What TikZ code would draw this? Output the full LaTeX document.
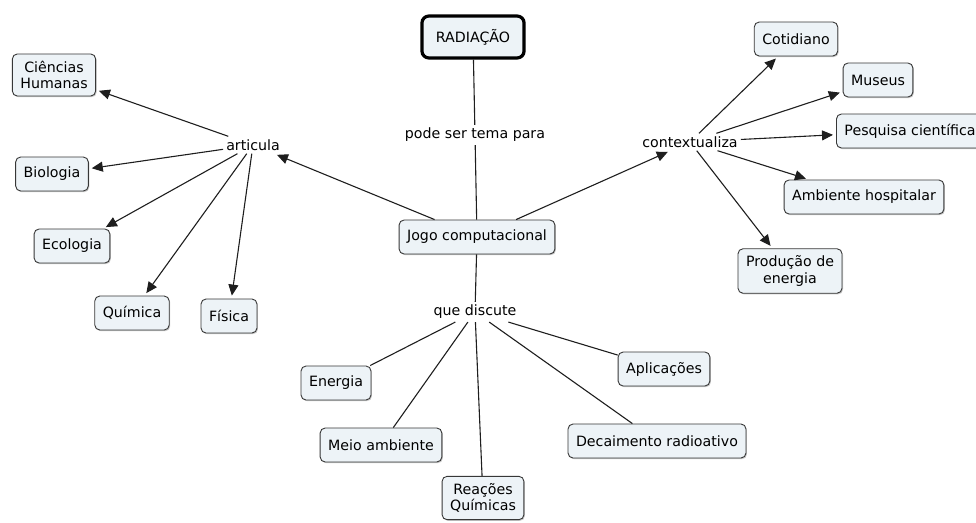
\documentclass[tikz,border=0pt]{standalone}
\usepackage{fontspec}
\setmainfont{DejaVu Sans}
\usetikzlibrary{arrows.meta, shadows}
\definecolor{conceptfill}{RGB}{237, 243, 247}
\definecolor{conceptline}{RGB}{55, 55, 55}
\definecolor{linkline}{RGB}{30, 30, 30}

\begin{document}
\begin{tikzpicture}[x=1pt, y=-1pt,
    concept/.style={draw=conceptline, fill=conceptfill, rounded corners=5pt, line width=0.9pt,
        inner xsep=8pt, inner ysep=7pt, minimum height=34pt, align=center,
        font=\fontsize{14.2}{16.5}\selectfont,
        drop shadow={shadow xshift=1pt, shadow yshift=-1.2pt, fill=gray!60, opacity=0.7}},
    rootconcept/.style={concept, line width=3.2pt, draw=black, rounded corners=7pt,
        minimum height=42pt, inner xsep=14pt},
    linkword/.style={font=\fontsize{14.2}{16.5}\selectfont, inner sep=3pt},
    plain/.style={draw=linkline, line width=1.1pt},
    arr/.style={plain, -{Triangle[length=11pt, width=10pt]}, shorten >=3pt}]
    \useasboundingbox (0,0) rectangle (976,522);

    % Centre
    \node[rootconcept] (radiacao) at (473,37) {RADIAÇÃO};
    \node[linkword] (tema) at (475,135) {pode ser tema para};
    \node[concept] (jogo) at (477,237) {Jogo computacional};
    \node[linkword] (articula) at (253,145) {articula};
    \node[linkword] (contexto) at (690,142) {contextualiza};
    \node[linkword] (discute) at (475,312) {que discute};

    % Left side (articula)
    \node[concept] (humanas) at (54,75) {Ciências\\Humanas};
    \node[concept] (biologia) at (52,174) {Biologia};
    \node[concept] (ecologia) at (72,246) {Ecologia};
    \node[concept] (quimica) at (132,313) {Química};
    \node[concept] (fisica) at (229,316) {Física};

    % Right side (contextualiza)
    \node[concept] (cotidiano) at (796,39) {Cotidiano};
    \node[concept] (museus) at (878,80) {Museus};
    \node[concept, anchor=west] (pesquisa) at (836,131) {Pesquisa científica};
    \node[concept] (hospital) at (864,197) {Ambiente hospitalar};
    \node[concept] (producao) at (790,271) {Produção de\\energia};

    % Bottom (que discute)
    \node[concept] (energia) at (336,383) {Energia};
    \node[concept] (meio) at (381,445) {Meio ambiente};
    \node[concept] (reacoes) at (483,498) {Reações\\Químicas};
    \node[concept] (aplicacoes) at (664,369) {Aplicações};
    \node[concept] (decaimento) at (657,441) {Decaimento radioativo};

    % Links
    \draw[plain] (radiacao) -- (tema);
    \draw[plain] (tema) -- (jogo);
    \draw[arr] (jogo) -- (articula);
    \draw[arr] (jogo) -- (contexto);
    \draw[plain] (jogo) -- (discute);

    \foreach \target in {humanas, biologia, ecologia, quimica, fisica}
        \draw[arr] (articula) -- (\target);
    \foreach \target in {cotidiano, museus, pesquisa, hospital, producao}
        \draw[arr] (contexto) -- (\target);
    \foreach \target in {energia, meio, reacoes, aplicacoes, decaimento}
        \draw[plain] (discute) -- (\target);
\end{tikzpicture}
\end{document}
